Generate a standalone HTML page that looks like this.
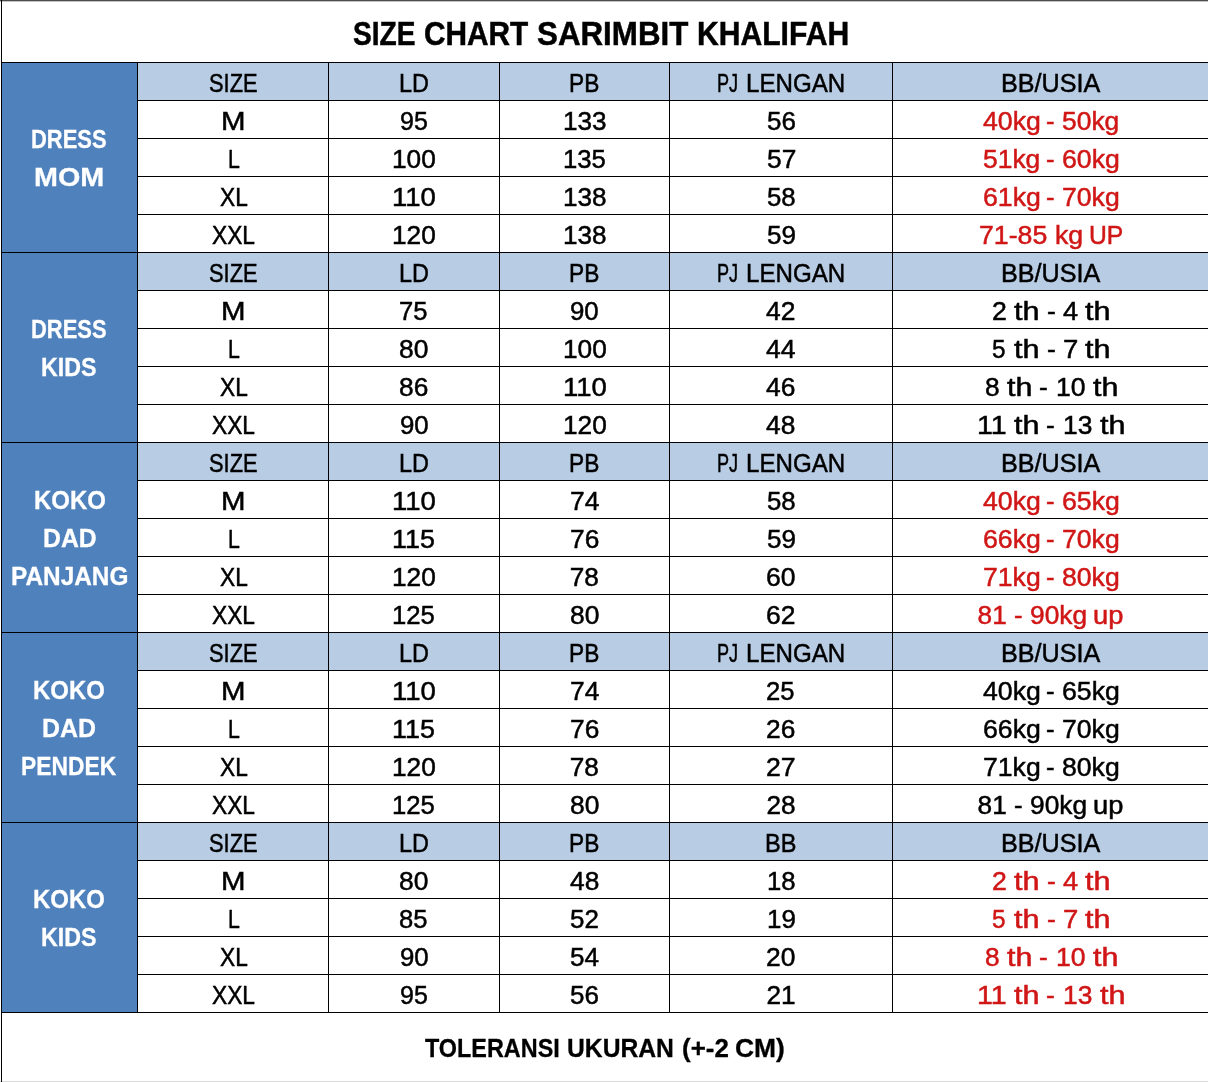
<!DOCTYPE html>
<html lang="id"><head><meta charset="utf-8"><title>Size Chart Sarimbit Khalifah</title>
<style>
html,body{margin:0;padding:0;}
body{width:1208px;height:1082px;background:#fff;position:relative;overflow:hidden;
font-family:"Liberation Sans",sans-serif;}
.r{position:absolute;}
.t{font-size:26.2px;line-height:31px;color:#000;-webkit-text-stroke:0.5px currentColor;}
.t span{position:absolute;white-space:nowrap;transform-origin:0 0;}
.b{font-weight:bold;-webkit-text-stroke-width:0.3px;}
</style></head>
<body>
<div class="r" style="left:2px;top:62px;width:135px;height:190px;background:#4f81bd"></div>
<div class="r" style="left:137px;top:62px;width:1071px;height:38px;background:#b8cce4"></div>
<div class="r" style="left:2px;top:252px;width:135px;height:190px;background:#4f81bd"></div>
<div class="r" style="left:137px;top:252px;width:1071px;height:38px;background:#b8cce4"></div>
<div class="r" style="left:2px;top:442px;width:135px;height:190px;background:#4f81bd"></div>
<div class="r" style="left:137px;top:442px;width:1071px;height:38px;background:#b8cce4"></div>
<div class="r" style="left:2px;top:632px;width:135px;height:190px;background:#4f81bd"></div>
<div class="r" style="left:137px;top:632px;width:1071px;height:38px;background:#b8cce4"></div>
<div class="r" style="left:2px;top:822px;width:135px;height:190px;background:#4f81bd"></div>
<div class="r" style="left:137px;top:822px;width:1071px;height:38px;background:#b8cce4"></div>
<div class="r" style="left:0px;top:0px;width:1208px;height:1px;background:#4d4d4d"></div>
<div class="r" style="left:0px;top:1px;width:1208px;height:1px;background:#c4c4c4"></div>
<div class="r" style="left:0px;top:1081px;width:1208px;height:1px;background:#d9d9d9"></div>
<div class="r" style="left:1px;top:0px;width:1px;height:1082px;background:#000"></div>
<div class="r" style="left:1px;top:62px;width:1207px;height:1px;background:#000"></div>
<div class="r" style="left:137px;top:100px;width:1071px;height:1px;background:#000"></div>
<div class="r" style="left:137px;top:138px;width:1071px;height:1px;background:#000"></div>
<div class="r" style="left:137px;top:176px;width:1071px;height:1px;background:#000"></div>
<div class="r" style="left:137px;top:214px;width:1071px;height:1px;background:#000"></div>
<div class="r" style="left:1px;top:252px;width:1207px;height:1px;background:#000"></div>
<div class="r" style="left:137px;top:290px;width:1071px;height:1px;background:#000"></div>
<div class="r" style="left:137px;top:328px;width:1071px;height:1px;background:#000"></div>
<div class="r" style="left:137px;top:366px;width:1071px;height:1px;background:#000"></div>
<div class="r" style="left:137px;top:404px;width:1071px;height:1px;background:#000"></div>
<div class="r" style="left:1px;top:442px;width:1207px;height:1px;background:#000"></div>
<div class="r" style="left:137px;top:480px;width:1071px;height:1px;background:#000"></div>
<div class="r" style="left:137px;top:518px;width:1071px;height:1px;background:#000"></div>
<div class="r" style="left:137px;top:556px;width:1071px;height:1px;background:#000"></div>
<div class="r" style="left:137px;top:594px;width:1071px;height:1px;background:#000"></div>
<div class="r" style="left:1px;top:632px;width:1207px;height:1px;background:#000"></div>
<div class="r" style="left:137px;top:670px;width:1071px;height:1px;background:#000"></div>
<div class="r" style="left:137px;top:708px;width:1071px;height:1px;background:#000"></div>
<div class="r" style="left:137px;top:746px;width:1071px;height:1px;background:#000"></div>
<div class="r" style="left:137px;top:784px;width:1071px;height:1px;background:#000"></div>
<div class="r" style="left:1px;top:822px;width:1207px;height:1px;background:#000"></div>
<div class="r" style="left:137px;top:860px;width:1071px;height:1px;background:#000"></div>
<div class="r" style="left:137px;top:898px;width:1071px;height:1px;background:#000"></div>
<div class="r" style="left:137px;top:936px;width:1071px;height:1px;background:#000"></div>
<div class="r" style="left:137px;top:974px;width:1071px;height:1px;background:#000"></div>
<div class="r" style="left:1px;top:1012px;width:1207px;height:1px;background:#000"></div>
<div class="r" style="left:137px;top:62px;width:1px;height:951px;background:#000"></div>
<div class="r" style="left:328px;top:62px;width:1px;height:951px;background:#000"></div>
<div class="r" style="left:499px;top:62px;width:1px;height:951px;background:#000"></div>
<div class="r" style="left:669px;top:62px;width:1px;height:951px;background:#000"></div>
<div class="r" style="left:892px;top:62px;width:1px;height:951px;background:#000"></div>
<div class="t b" style="font-size:33.4px;line-height:40px;-webkit-text-stroke-width:0.5px;"><span style="left:352.67px;top:14.43px;transform:scaleX(0.8422)">SIZE</span> <span style="left:423.82px;top:14.43px;transform:scaleX(0.8928)">CHART</span> <span style="left:536.73px;top:14.43px;transform:scaleX(0.9378)">SARIMBIT</span> <span style="left:696.57px;top:14.43px;transform:scaleX(0.9015)">KHALIFAH</span></div>
<div class="t b" style="color:#fff;"><span style="left:31.26px;top:124.42px;transform:scaleX(0.8383)">DRESS</span></div>
<div class="t b" style="color:#fff;"><span style="left:33.74px;top:162.42px;transform:scaleX(1.0981)">MOM</span></div>
<div class="t"><span style="left:208.96px;top:68.42px;transform:scaleX(0.8337)">SIZE</span></div>
<div class="t"><span style="left:399.14px;top:68.42px;transform:scaleX(0.8943)">LD</span></div>
<div class="t"><span style="left:569.35px;top:68.42px;transform:scaleX(0.8672)">PB</span></div>
<div class="t"><span style="left:717.27px;top:68.42px;transform:scaleX(0.6912)">PJ</span> <span style="left:745.85px;top:68.42px;transform:scaleX(0.9208)">LENGAN</span></div>
<div class="t"><span style="left:1000.76px;top:68.42px;transform:scaleX(0.9607)">BB/USIA</span></div>
<div class="t"><span style="left:221.23px;top:106.42px;transform:scaleX(1.1241)">M</span></div>
<div class="t"><span style="left:400.06px;top:106.42px;transform:scaleX(0.9543)">95</span></div>
<div class="t"><span style="left:562.86px;top:106.42px;transform:scaleX(0.9970)">133</span></div>
<div class="t"><span style="left:766.77px;top:106.42px;transform:scaleX(0.9910)">56</span></div>
<div class="t" style="color:#d01616;"><span style="left:982.63px;top:106.42px;transform:scaleX(1.0182)">40kg</span> <span style="left:1046.28px;top:106.42px;transform:scaleX(0.9821)">-</span> <span style="left:1062.24px;top:106.42px;transform:scaleX(1.0092)">50kg</span></div>
<div class="t"><span style="left:227.81px;top:144.42px;transform:scaleX(0.8144)">L</span></div>
<div class="t"><span style="left:392.45px;top:144.42px;transform:scaleX(1.0030)">100</span></div>
<div class="t"><span style="left:562.88px;top:144.42px;transform:scaleX(0.9818)">135</span></div>
<div class="t"><span style="left:766.76px;top:144.42px;transform:scaleX(1.0046)">57</span></div>
<div class="t" style="color:#d01616;"><span style="left:983.13px;top:144.42px;transform:scaleX(1.0092)">51kg</span> <span style="left:1046.28px;top:144.42px;transform:scaleX(0.9821)">-</span> <span style="left:1061.72px;top:144.42px;transform:scaleX(1.0184)">60kg</span></div>
<div class="t"><span style="left:219.52px;top:182.42px;transform:scaleX(0.8675)">XL</span></div>
<div class="t"><span style="left:392.36px;top:182.42px;transform:scaleX(1.0508)">110</span></div>
<div class="t"><span style="left:562.86px;top:182.42px;transform:scaleX(0.9970)">138</span></div>
<div class="t"><span style="left:766.77px;top:182.42px;transform:scaleX(0.9864)">58</span></div>
<div class="t" style="color:#d01616;"><span style="left:982.62px;top:182.42px;transform:scaleX(1.0184)">61kg</span> <span style="left:1046.28px;top:182.42px;transform:scaleX(0.9821)">-</span> <span style="left:1061.85px;top:182.42px;transform:scaleX(1.0161)">70kg</span></div>
<div class="t"><span style="left:211.91px;top:220.42px;transform:scaleX(0.8689)">XXL</span></div>
<div class="t"><span style="left:392.45px;top:220.42px;transform:scaleX(1.0030)">120</span></div>
<div class="t"><span style="left:562.86px;top:220.42px;transform:scaleX(0.9970)">138</span></div>
<div class="t"><span style="left:766.76px;top:220.42px;transform:scaleX(0.9955)">59</span></div>
<div class="t" style="color:#d01616;"><span style="left:978.55px;top:220.42px;transform:scaleX(1.0201)">71-85</span> <span style="left:1054.82px;top:220.42px;transform:scaleX(1.0194)">kg</span> <span style="left:1089.07px;top:220.42px;transform:scaleX(0.9423)">UP</span></div>
<div class="t b" style="color:#fff;"><span style="left:31.26px;top:314.42px;transform:scaleX(0.8383)">DRESS</span></div>
<div class="t b" style="color:#fff;"><span style="left:41.38px;top:352.42px;transform:scaleX(0.8891)">KIDS</span></div>
<div class="t"><span style="left:208.96px;top:258.42px;transform:scaleX(0.8337)">SIZE</span></div>
<div class="t"><span style="left:399.14px;top:258.42px;transform:scaleX(0.8943)">LD</span></div>
<div class="t"><span style="left:569.35px;top:258.42px;transform:scaleX(0.8672)">PB</span></div>
<div class="t"><span style="left:717.27px;top:258.42px;transform:scaleX(0.6912)">PJ</span> <span style="left:745.85px;top:258.42px;transform:scaleX(0.9208)">LENGAN</span></div>
<div class="t"><span style="left:1000.76px;top:258.42px;transform:scaleX(0.9607)">BB/USIA</span></div>
<div class="t"><span style="left:221.23px;top:296.42px;transform:scaleX(1.1241)">M</span></div>
<div class="t"><span style="left:399.41px;top:296.42px;transform:scaleX(0.9771)">75</span></div>
<div class="t"><span style="left:570.42px;top:296.42px;transform:scaleX(0.9864)">90</span></div>
<div class="t"><span style="left:766.26px;top:296.42px;transform:scaleX(1.0090)">42</span></div>
<div class="t"><span style="left:991.78px;top:296.42px;transform:scaleX(1.0179)">2</span> <span style="left:1013.98px;top:296.42px;transform:scaleX(1.1678)">th</span> <span style="left:1046.65px;top:296.42px;transform:scaleX(1.0098)">-</span> <span style="left:1062.55px;top:296.42px;transform:scaleX(1.0375)">4</span> <span style="left:1084.90px;top:296.42px;transform:scaleX(1.1678)">th</span></div>
<div class="t"><span style="left:227.81px;top:334.42px;transform:scaleX(0.8144)">L</span></div>
<div class="t"><span style="left:399.38px;top:334.42px;transform:scaleX(1.0090)">80</span></div>
<div class="t"><span style="left:562.85px;top:334.42px;transform:scaleX(1.0030)">100</span></div>
<div class="t"><span style="left:766.25px;top:334.42px;transform:scaleX(1.0132)">44</span></div>
<div class="t"><span style="left:992.10px;top:334.42px;transform:scaleX(0.9304)">5</span> <span style="left:1013.88px;top:334.42px;transform:scaleX(1.1691)">th</span> <span style="left:1046.58px;top:334.42px;transform:scaleX(1.0110)">-</span> <span style="left:1062.61px;top:334.42px;transform:scaleX(1.0501)">7</span> <span style="left:1084.87px;top:334.42px;transform:scaleX(1.1691)">th</span></div>
<div class="t"><span style="left:219.52px;top:372.42px;transform:scaleX(0.8675)">XL</span></div>
<div class="t"><span style="left:399.38px;top:372.42px;transform:scaleX(1.0045)">86</span></div>
<div class="t"><span style="left:562.76px;top:372.42px;transform:scaleX(1.0508)">110</span></div>
<div class="t"><span style="left:766.26px;top:372.42px;transform:scaleX(1.0089)">46</span></div>
<div class="t"><span style="left:984.82px;top:372.42px;transform:scaleX(1.0042)">8</span> <span style="left:1006.93px;top:372.42px;transform:scaleX(1.1632)">th</span> <span style="left:1039.46px;top:372.42px;transform:scaleX(1.0058)">-</span> <span style="left:1055.96px;top:372.42px;transform:scaleX(1.0145)">10</span> <span style="left:1092.78px;top:372.42px;transform:scaleX(1.1632)">th</span></div>
<div class="t"><span style="left:211.91px;top:410.42px;transform:scaleX(0.8689)">XXL</span></div>
<div class="t"><span style="left:400.02px;top:410.42px;transform:scaleX(0.9864)">90</span></div>
<div class="t"><span style="left:562.85px;top:410.42px;transform:scaleX(1.0030)">120</span></div>
<div class="t"><span style="left:766.26px;top:410.42px;transform:scaleX(1.0045)">48</span></div>
<div class="t"><span style="left:976.69px;top:410.42px;transform:scaleX(1.0896)">11</span> <span style="left:1013.73px;top:410.42px;transform:scaleX(1.1662)">th</span> <span style="left:1046.36px;top:410.42px;transform:scaleX(1.0084)">-</span> <span style="left:1062.91px;top:410.42px;transform:scaleX(1.0075)">13</span> <span style="left:1099.81px;top:410.42px;transform:scaleX(1.1662)">th</span></div>
<div class="t b" style="color:#fff;"><span style="left:34.03px;top:485.42px;transform:scaleX(0.9163)">KOKO</span></div>
<div class="t b" style="color:#fff;"><span style="left:43.19px;top:523.42px;transform:scaleX(0.9466)">DAD</span></div>
<div class="t b" style="color:#fff;"><span style="left:11.11px;top:561.42px;transform:scaleX(0.9305)">PANJANG</span></div>
<div class="t"><span style="left:208.96px;top:448.42px;transform:scaleX(0.8337)">SIZE</span></div>
<div class="t"><span style="left:399.14px;top:448.42px;transform:scaleX(0.8943)">LD</span></div>
<div class="t"><span style="left:569.35px;top:448.42px;transform:scaleX(0.8672)">PB</span></div>
<div class="t"><span style="left:717.27px;top:448.42px;transform:scaleX(0.6912)">PJ</span> <span style="left:745.85px;top:448.42px;transform:scaleX(0.9208)">LENGAN</span></div>
<div class="t"><span style="left:1000.76px;top:448.42px;transform:scaleX(0.9607)">BB/USIA</span></div>
<div class="t"><span style="left:221.23px;top:486.42px;transform:scaleX(1.1241)">M</span></div>
<div class="t"><span style="left:392.36px;top:486.42px;transform:scaleX(1.0508)">110</span></div>
<div class="t"><span style="left:569.77px;top:486.42px;transform:scaleX(1.0090)">74</span></div>
<div class="t"><span style="left:766.77px;top:486.42px;transform:scaleX(0.9864)">58</span></div>
<div class="t" style="color:#d01616;"><span style="left:982.63px;top:486.42px;transform:scaleX(1.0182)">40kg</span> <span style="left:1046.28px;top:486.42px;transform:scaleX(0.9821)">-</span> <span style="left:1061.72px;top:486.42px;transform:scaleX(1.0184)">65kg</span></div>
<div class="t"><span style="left:227.81px;top:524.42px;transform:scaleX(0.8144)">L</span></div>
<div class="t"><span style="left:392.40px;top:524.42px;transform:scaleX(1.0287)">115</span></div>
<div class="t"><span style="left:569.78px;top:524.42px;transform:scaleX(1.0046)">76</span></div>
<div class="t"><span style="left:766.76px;top:524.42px;transform:scaleX(0.9955)">59</span></div>
<div class="t" style="color:#d01616;"><span style="left:982.62px;top:524.42px;transform:scaleX(1.0184)">66kg</span> <span style="left:1046.28px;top:524.42px;transform:scaleX(0.9821)">-</span> <span style="left:1061.85px;top:524.42px;transform:scaleX(1.0161)">70kg</span></div>
<div class="t"><span style="left:219.52px;top:562.42px;transform:scaleX(0.8675)">XL</span></div>
<div class="t"><span style="left:392.45px;top:562.42px;transform:scaleX(1.0030)">120</span></div>
<div class="t"><span style="left:569.78px;top:562.42px;transform:scaleX(1.0000)">78</span></div>
<div class="t"><span style="left:766.24px;top:562.42px;transform:scaleX(1.0137)">60</span></div>
<div class="t" style="color:#d01616;"><span style="left:982.74px;top:562.42px;transform:scaleX(1.0161)">71kg</span> <span style="left:1046.28px;top:562.42px;transform:scaleX(0.9821)">-</span> <span style="left:1061.86px;top:562.42px;transform:scaleX(1.0161)">80kg</span></div>
<div class="t"><span style="left:211.91px;top:600.42px;transform:scaleX(0.8689)">XXL</span></div>
<div class="t"><span style="left:392.48px;top:600.42px;transform:scaleX(0.9818)">125</span></div>
<div class="t"><span style="left:569.78px;top:600.42px;transform:scaleX(1.0090)">80</span></div>
<div class="t"><span style="left:766.25px;top:600.42px;transform:scaleX(1.0093)">62</span></div>
<div class="t" style="color:#d01616;"><span style="left:977.61px;top:600.42px;transform:scaleX(1.0000)">81</span> <span style="left:1013.98px;top:600.42px;transform:scaleX(0.9821)">-</span> <span style="left:1030.20px;top:600.42px;transform:scaleX(1.0046)">90kg</span> <span style="left:1093.01px;top:600.42px;transform:scaleX(1.0419)">up</span></div>
<div class="t b" style="color:#fff;"><span style="left:33.14px;top:675.42px;transform:scaleX(0.9137)">KOKO</span></div>
<div class="t b" style="color:#fff;"><span style="left:41.98px;top:713.42px;transform:scaleX(0.9521)">DAD</span></div>
<div class="t b" style="color:#fff;"><span style="left:21.30px;top:751.42px;transform:scaleX(0.8722)">PENDEK</span></div>
<div class="t"><span style="left:208.96px;top:638.42px;transform:scaleX(0.8337)">SIZE</span></div>
<div class="t"><span style="left:399.14px;top:638.42px;transform:scaleX(0.8943)">LD</span></div>
<div class="t"><span style="left:569.35px;top:638.42px;transform:scaleX(0.8672)">PB</span></div>
<div class="t"><span style="left:717.27px;top:638.42px;transform:scaleX(0.6912)">PJ</span> <span style="left:745.85px;top:638.42px;transform:scaleX(0.9208)">LENGAN</span></div>
<div class="t"><span style="left:1000.76px;top:638.42px;transform:scaleX(0.9607)">BB/USIA</span></div>
<div class="t"><span style="left:221.23px;top:676.42px;transform:scaleX(1.1241)">M</span></div>
<div class="t"><span style="left:392.36px;top:676.42px;transform:scaleX(1.0508)">110</span></div>
<div class="t"><span style="left:569.77px;top:676.42px;transform:scaleX(1.0090)">74</span></div>
<div class="t"><span style="left:766.41px;top:676.42px;transform:scaleX(0.9772)">25</span></div>
<div class="t"><span style="left:982.63px;top:676.42px;transform:scaleX(1.0182)">40kg</span> <span style="left:1046.28px;top:676.42px;transform:scaleX(0.9821)">-</span> <span style="left:1061.72px;top:676.42px;transform:scaleX(1.0184)">65kg</span></div>
<div class="t"><span style="left:227.81px;top:714.42px;transform:scaleX(0.8144)">L</span></div>
<div class="t"><span style="left:392.40px;top:714.42px;transform:scaleX(1.0287)">115</span></div>
<div class="t"><span style="left:569.78px;top:714.42px;transform:scaleX(1.0046)">76</span></div>
<div class="t"><span style="left:766.38px;top:714.42px;transform:scaleX(1.0046)">26</span></div>
<div class="t"><span style="left:982.62px;top:714.42px;transform:scaleX(1.0184)">66kg</span> <span style="left:1046.28px;top:714.42px;transform:scaleX(0.9821)">-</span> <span style="left:1061.85px;top:714.42px;transform:scaleX(1.0161)">70kg</span></div>
<div class="t"><span style="left:219.52px;top:752.42px;transform:scaleX(0.8675)">XL</span></div>
<div class="t"><span style="left:392.45px;top:752.42px;transform:scaleX(1.0030)">120</span></div>
<div class="t"><span style="left:569.78px;top:752.42px;transform:scaleX(1.0000)">78</span></div>
<div class="t"><span style="left:766.37px;top:752.42px;transform:scaleX(1.0184)">27</span></div>
<div class="t"><span style="left:982.74px;top:752.42px;transform:scaleX(1.0161)">71kg</span> <span style="left:1046.28px;top:752.42px;transform:scaleX(0.9821)">-</span> <span style="left:1061.86px;top:752.42px;transform:scaleX(1.0161)">80kg</span></div>
<div class="t"><span style="left:211.91px;top:790.42px;transform:scaleX(0.8689)">XXL</span></div>
<div class="t"><span style="left:392.48px;top:790.42px;transform:scaleX(0.9818)">125</span></div>
<div class="t"><span style="left:569.78px;top:790.42px;transform:scaleX(1.0090)">80</span></div>
<div class="t"><span style="left:766.38px;top:790.42px;transform:scaleX(1.0000)">28</span></div>
<div class="t"><span style="left:977.61px;top:790.42px;transform:scaleX(1.0000)">81</span> <span style="left:1013.98px;top:790.42px;transform:scaleX(0.9821)">-</span> <span style="left:1030.20px;top:790.42px;transform:scaleX(1.0046)">90kg</span> <span style="left:1093.01px;top:790.42px;transform:scaleX(1.0419)">up</span></div>
<div class="t b" style="color:#fff;"><span style="left:33.14px;top:884.42px;transform:scaleX(0.9137)">KOKO</span></div>
<div class="t b" style="color:#fff;"><span style="left:41.38px;top:922.42px;transform:scaleX(0.8891)">KIDS</span></div>
<div class="t"><span style="left:208.96px;top:828.42px;transform:scaleX(0.8337)">SIZE</span></div>
<div class="t"><span style="left:399.14px;top:828.42px;transform:scaleX(0.8943)">LD</span></div>
<div class="t"><span style="left:569.35px;top:828.42px;transform:scaleX(0.8672)">PB</span></div>
<div class="t"><span style="left:765.36px;top:828.42px;transform:scaleX(0.8984)">BB</span></div>
<div class="t"><span style="left:1000.76px;top:828.42px;transform:scaleX(0.9607)">BB/USIA</span></div>
<div class="t"><span style="left:221.23px;top:866.42px;transform:scaleX(1.1241)">M</span></div>
<div class="t"><span style="left:399.38px;top:866.42px;transform:scaleX(1.0090)">80</span></div>
<div class="t"><span style="left:569.66px;top:866.42px;transform:scaleX(1.0045)">48</span></div>
<div class="t"><span style="left:766.92px;top:866.42px;transform:scaleX(0.9812)">18</span></div>
<div class="t" style="color:#d01616;"><span style="left:991.78px;top:866.42px;transform:scaleX(1.0179)">2</span> <span style="left:1013.98px;top:866.42px;transform:scaleX(1.1678)">th</span> <span style="left:1046.65px;top:866.42px;transform:scaleX(1.0098)">-</span> <span style="left:1062.55px;top:866.42px;transform:scaleX(1.0375)">4</span> <span style="left:1084.90px;top:866.42px;transform:scaleX(1.1678)">th</span></div>
<div class="t"><span style="left:227.81px;top:904.42px;transform:scaleX(0.8144)">L</span></div>
<div class="t"><span style="left:399.40px;top:904.42px;transform:scaleX(0.9773)">85</span></div>
<div class="t"><span style="left:570.17px;top:904.42px;transform:scaleX(0.9909)">52</span></div>
<div class="t"><span style="left:766.90px;top:904.42px;transform:scaleX(0.9906)">19</span></div>
<div class="t" style="color:#d01616;"><span style="left:992.10px;top:904.42px;transform:scaleX(0.9304)">5</span> <span style="left:1013.88px;top:904.42px;transform:scaleX(1.1691)">th</span> <span style="left:1046.58px;top:904.42px;transform:scaleX(1.0110)">-</span> <span style="left:1062.61px;top:904.42px;transform:scaleX(1.0501)">7</span> <span style="left:1084.87px;top:904.42px;transform:scaleX(1.1691)">th</span></div>
<div class="t"><span style="left:219.52px;top:942.42px;transform:scaleX(0.8675)">XL</span></div>
<div class="t"><span style="left:400.02px;top:942.42px;transform:scaleX(0.9864)">90</span></div>
<div class="t"><span style="left:570.16px;top:942.42px;transform:scaleX(0.9955)">54</span></div>
<div class="t"><span style="left:766.38px;top:942.42px;transform:scaleX(1.0091)">20</span></div>
<div class="t" style="color:#d01616;"><span style="left:984.82px;top:942.42px;transform:scaleX(1.0042)">8</span> <span style="left:1006.93px;top:942.42px;transform:scaleX(1.1632)">th</span> <span style="left:1039.46px;top:942.42px;transform:scaleX(1.0058)">-</span> <span style="left:1055.96px;top:942.42px;transform:scaleX(1.0145)">10</span> <span style="left:1092.78px;top:942.42px;transform:scaleX(1.1632)">th</span></div>
<div class="t"><span style="left:211.91px;top:980.42px;transform:scaleX(0.8689)">XXL</span></div>
<div class="t"><span style="left:400.06px;top:980.42px;transform:scaleX(0.9543)">95</span></div>
<div class="t"><span style="left:570.17px;top:980.42px;transform:scaleX(0.9910)">56</span></div>
<div class="t"><span style="left:766.38px;top:980.42px;transform:scaleX(1.0000)">21</span></div>
<div class="t" style="color:#d01616;"><span style="left:976.69px;top:980.42px;transform:scaleX(1.0896)">11</span> <span style="left:1013.73px;top:980.42px;transform:scaleX(1.1662)">th</span> <span style="left:1046.36px;top:980.42px;transform:scaleX(1.0084)">-</span> <span style="left:1062.91px;top:980.42px;transform:scaleX(1.0075)">13</span> <span style="left:1099.81px;top:980.42px;transform:scaleX(1.1662)">th</span></div>
<div class="t b"><span style="left:425.11px;top:1033.42px;transform:scaleX(0.8934)">TOLERANSI</span> <span style="left:567.26px;top:1033.42px;transform:scaleX(0.9423)">UKURAN</span> <span style="left:681.79px;top:1033.42px;transform:scaleX(0.9899)">(+-2</span> <span style="left:734.95px;top:1033.42px;transform:scaleX(1.0087)">CM)</span></div>
</body></html>
